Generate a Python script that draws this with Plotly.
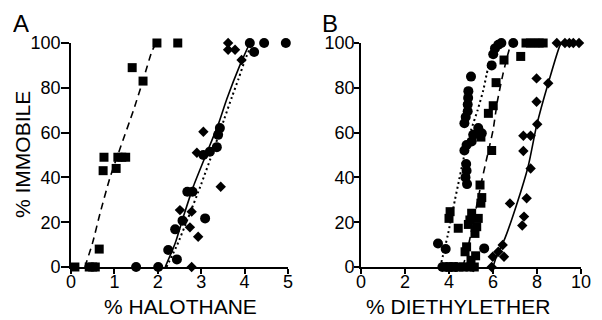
import plotly.graph_objects as go

# ---------------- Panel A: halothane ----------------
hal_sq_x = [0.09, 0.42, 0.5, 0.56, 0.65, 0.74, 0.76, 1.04, 1.08, 1.17, 1.26, 1.41, 1.66, 1.98, 2.46]
hal_sq_y = [0, 0, 0, 0, 8, 43, 49, 44, 49, 49, 49, 89, 83, 100, 100]

hal_ci_x = [1.5, 2.01, 2.24, 2.44, 2.4, 2.57, 2.68, 2.8, 3.09, 3.05, 3.2, 3.36, 3.39, 3.43, 4.12, 4.22, 4.45, 4.95]
hal_ci_y = [0, 0, 7.6, 3.4, 16.8, 20.7, 33.6, 33.6, 21.7, 50, 51.5, 53.5, 59, 62, 100, 96, 100, 100]

hal_di_x = [2.51, 2.78, 2.74, 2.93, 2.78, 2.9, 3.05, 3.45, 3.62, 3.62, 3.78, 3.93]
hal_di_y = [25.4, 24.7, 17.7, 13.5, 0, 51, 60.4, 35.8, 100, 97, 97, 92.4]

hal_dash_x = [0.32, 0.5, 0.67, 0.9, 1.15, 1.44, 1.67, 1.86, 1.96]
hal_dash_y = [0, 11, 24, 40, 54, 70, 84, 96, 100]

hal_solid_x = [2.17, 2.4, 2.59, 2.82, 3.13, 3.4, 3.59, 3.89, 4.12]
hal_solid_y = [0, 10.6, 22.5, 36, 51, 64, 75, 90, 100]

hal_dot_x = [2.2, 2.45, 2.7, 3.0, 3.28, 3.53, 3.71, 3.86, 4.02, 4.18]
hal_dot_y = [0, 10, 22, 37, 52, 66, 76, 84, 93, 100]

hal_ticks = [0, 1, 2, 3, 4, 5]

# ---------------- Panel B: diethylether ----------------
eth_ci_x = [3.5, 3.85, 3.7, 3.9, 4.1, 4.3, 4.78, 4.8, 4.75, 4.82, 4.7, 4.8, 5.03, 5.1, 5.33, 5.49,
            4.7, 4.76, 4.85, 4.85, 4.87, 4.88, 5.0, 5.94, 6.01, 6.09, 6.24, 6.38, 6.92, 5.6]
eth_ci_y = [10.5, 8, 0, 0, 0, 0, 46, 43, 40, 37, 52, 54.5, 56, 59, 62, 59.7,
            64.2, 67, 69.5, 72.5, 75.5, 78.5, 85, 90, 95, 97.6, 99.2, 100, 100, 8.3]

eth_sq_x = [4.0, 4.2, 4.45, 4.65, 4.95, 5.15, 4.73, 4.8, 5.0, 5.21, 4.42, 4.0, 4.05, 4.88, 4.95, 5.03,
            5.18, 5.26, 5.33, 5.45, 5.49, 5.41, 5.94, 5.45, 5.79, 6.01, 6.14, 6.5, 7.26,
            7.5, 7.7, 7.9, 8.1, 8.28]
eth_sq_y = [0, 0, 0, 0, 0, 0, 6.8, 9, 3, 5, 17.3, 21.7, 24.7, 19, 21, 24,
            15, 18, 21.7, 28.5, 31, 36.6, 52, 58, 68.6, 72, 82.3, 92.4, 94,
            100, 100, 100, 100, 100]

eth_di_x = [5.1, 5.94, 5.99, 6.24, 6.44, 6.5, 6.77, 7.33, 7.41, 7.53, 7.71, 7.38, 7.38, 7.71,
            8.01, 7.98, 7.98, 8.51, 8.9, 9.27, 9.47, 9.65, 9.91]
eth_di_y = [0, 0, 4.6, 6.8, 9.8, 4.6, 28.4, 18.5, 22.5, 30.7, 44, 51.8, 58.6, 58.6,
            63.7, 73.8, 84.2, 82, 100, 100, 100, 100, 100]

eth_dot_x = [3.6, 3.82, 3.94, 4.27, 4.42, 4.7, 5.0, 5.3, 5.56, 5.71, 5.9, 6.1]
eth_dot_y = [0, 9, 14, 30, 37, 50, 61, 70, 79, 86, 94, 100]

eth_dash_x = [4.62, 4.8, 5.0, 5.25, 5.5, 5.75, 6.0, 6.2, 6.45, 6.65, 6.82]
eth_dash_y = [0, 6, 15, 27, 39, 50, 61, 74, 86, 94, 100]

eth_solid_x = [6.0, 6.17, 6.55, 7.08, 7.6, 7.98, 8.51, 9.05, 9.15]
eth_solid_y = [0, 5, 13, 28, 45, 63, 82, 99, 100]

eth_ticks = [0, 2, 4, 6, 8, 10]
y_ticks = [0, 20, 40, 60, 80, 100]

W, H = 602, 320
FONT = "Liberation Sans, Arial, sans-serif"

fig = go.Figure()

def line(x, y, dash, width, xa, ya):
    fig.add_trace(go.Scatter(x=x, y=y, mode="lines", line=dict(color="black", width=width, dash=dash, shape="spline", smoothing=0.6),
                             xaxis=xa, yaxis=ya, hoverinfo="skip", showlegend=False, cliponaxis=False))

def pts(x, y, sym, size, xa, ya):
    fig.add_trace(go.Scatter(x=x, y=y, mode="markers", marker=dict(symbol=sym, size=size, color="black", line=dict(width=0)),
                             xaxis=xa, yaxis=ya, showlegend=False, cliponaxis=False))

# Panel A
line(hal_dash_x, hal_dash_y, "7px,5px", 1.6, "x", "y")
line(hal_dot_x, hal_dot_y, "2px,3px", 2, "x", "y")
line(hal_solid_x, hal_solid_y, "solid", 1.6, "x", "y")
pts(hal_sq_x, hal_sq_y, "square", 9, "x", "y")
pts(hal_ci_x, hal_ci_y, "circle", 10, "x", "y")
pts(hal_di_x, hal_di_y, "diamond", 8, "x", "y")

# Panel B
line(eth_dash_x, eth_dash_y, "7px,5px", 1.6, "x2", "y2")
line(eth_dot_x, eth_dot_y, "2px,3px", 2, "x2", "y2")
line(eth_solid_x, eth_solid_y, "solid", 1.6, "x2", "y2")
pts(eth_sq_x, eth_sq_y, "square", 9, "x2", "y2")
pts(eth_ci_x, eth_ci_y, "circle", 10, "x2", "y2")
pts(eth_di_x, eth_di_y, "diamond", 8, "x2", "y2")

ydom = [(H - 267) / H, (H - 43) / H]

axis_common = dict(showgrid=False, zeroline=False, showline=True, linecolor="black", linewidth=1.6,
                   ticks="outside", tickcolor="black", tickwidth=1.6,
                   tickfont=dict(family=FONT, size=18, color="black"), fixedrange=True)

fig.update_layout(
    width=W, height=H,
    margin=dict(l=0, r=0, t=0, b=0, autoexpand=False),
    paper_bgcolor="white", plot_bgcolor="white",
    xaxis=dict(domain=[71 / W, 288 / W], range=[0, 5], tickvals=hal_ticks, ticklen=5, ticklabelstandoff=-7,
               anchor="y", **axis_common),
    yaxis=dict(domain=ydom, range=[0, 100], tickvals=y_ticks, ticklen=8, ticklabelstandoff=-3,
               anchor="x", **axis_common),
    xaxis2=dict(domain=[361 / W, 581 / W], range=[0, 10], tickvals=eth_ticks, ticklen=5, ticklabelstandoff=-7,
                anchor="y2", **axis_common),
    yaxis2=dict(domain=ydom, range=[0, 100], tickvals=y_ticks, ticklen=5, ticklabelstandoff=-4,
                anchor="x2", **axis_common),
    annotations=[
        dict(text="A", x=12 / W, y=1 - 13 / H, xref="paper", yref="paper", xanchor="left", yanchor="top",
             height=18, valign="middle", borderpad=0,
             showarrow=False, font=dict(family=FONT, size=24, color="black")),
        dict(text="B", x=321 / W, y=1 - 13 / H, xref="paper", yref="paper", xanchor="left", yanchor="top",
             height=18, valign="middle", borderpad=0,
             showarrow=False, font=dict(family=FONT, size=24, color="black")),
        dict(text="% HALOTHANE", x=180 / W, y=1 - 306 / H, xref="paper", yref="paper", xanchor="center", yanchor="middle",
             showarrow=False, font=dict(family=FONT, size=21, color="black")),
        dict(text="% DIETHYLETHER", x=458 / W, y=1 - 306 / H, xref="paper", yref="paper", xanchor="center", yanchor="middle",
             showarrow=False, font=dict(family=FONT, size=21, color="black")),
        dict(text="% IMMOBILE", x=22 / W, y=1 - 155 / H, xref="paper", yref="paper", xanchor="center", yanchor="middle",
             textangle=-90, showarrow=False, font=dict(family=FONT, size=21, color="black")),
    ],
)

fig.write_html("out.html", config={"displayModeBar": False},
               post_script="document.body.style.margin='0';document.body.style.overflow='hidden';")
